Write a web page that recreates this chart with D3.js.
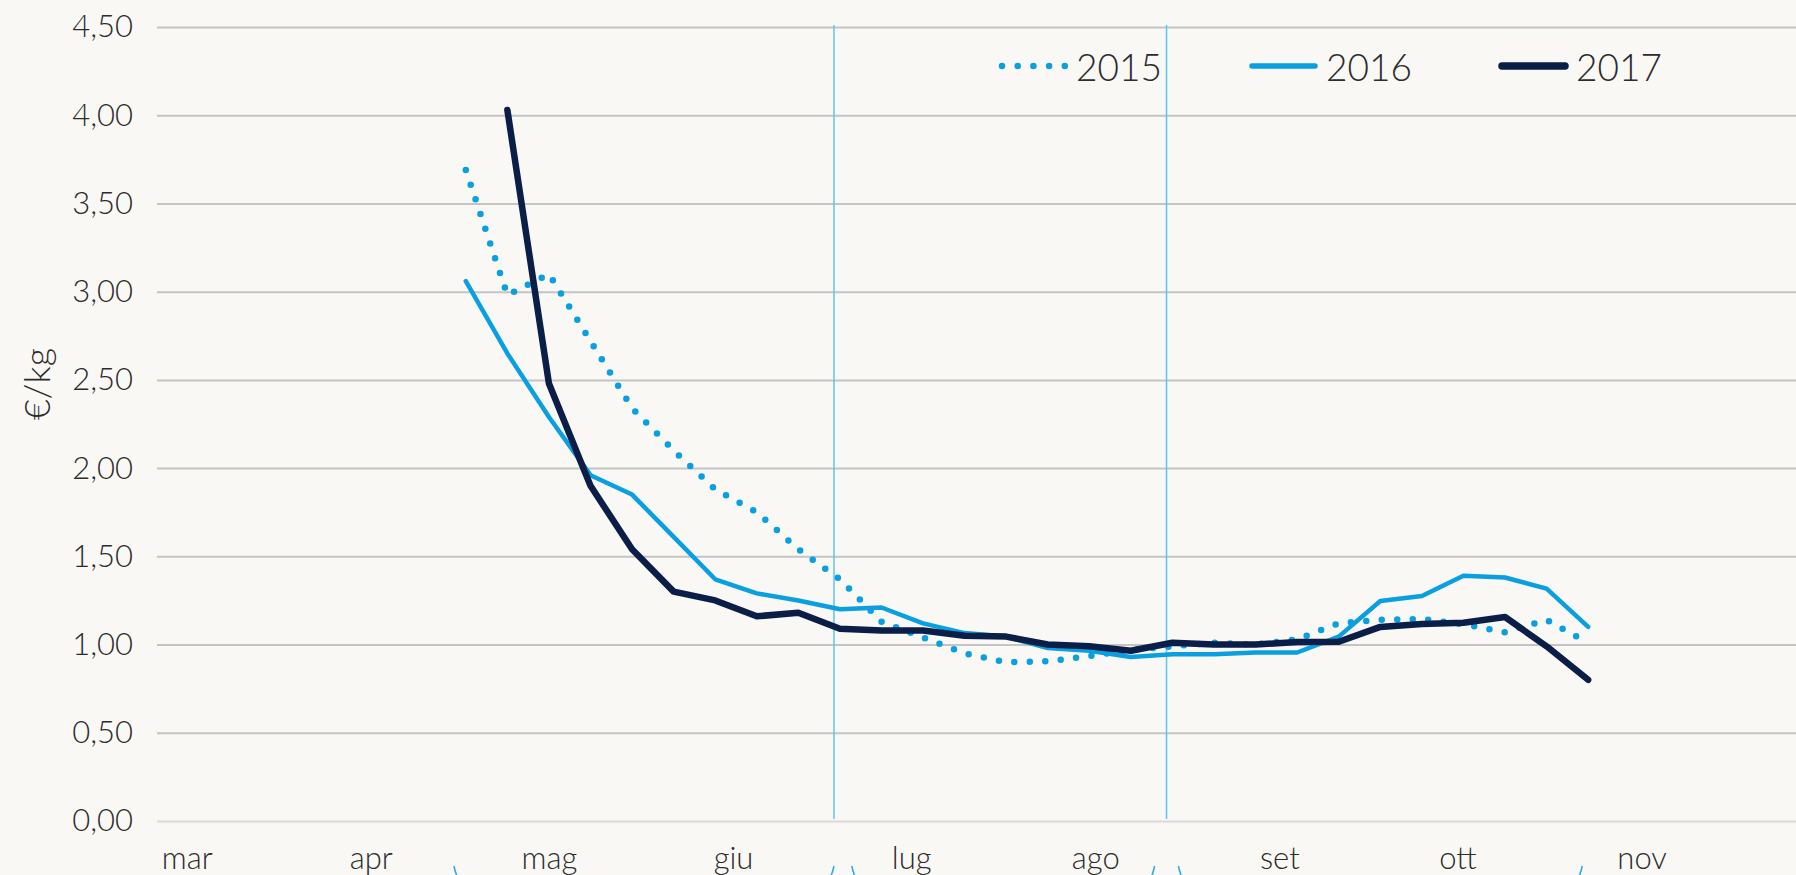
<!DOCTYPE html>
<html>
<head>
<meta charset="utf-8">
<script src="https://cdn.jsdelivr.net/npm/d3@7"></script>
<style>
  html, body { margin: 0; padding: 0; background: #f9f8f4; }
  svg { display: block; }
  text { font-family: 'Century Gothic', 'URW Gothic', Lato, sans-serif; font-weight: 300; fill: #2b2b2b; }
</style>
</head>
<body>
<script>
// ISO weeks (2017 calendar) of the weekly quotations
var weeks = [16, 17, 18, 19, 20, 21, 22, 23, 24, 25, 26, 27, 28, 29,
  30, 31, 32, 33, 34, 35, 36, 37, 38, 39, 40, 41, 42, 43];

var series2015 = [3.69, 2.98, 3.10, 2.72, 2.34, 2.10, 1.88, 1.75, 1.54, 1.37,
  1.13, 1.04, 0.95, 0.90, 0.905, 0.935, 0.97, 0.99, 1.01, 1.00,
  1.03, 1.12, 1.14, 1.145, 1.115, 1.07, 1.14, 1.01];
var series2016 = [3.06, 2.65, 2.29, 1.96, 1.85, 1.61, 1.37, 1.29, 1.25, 1.20,
  1.21, 1.12, 1.065, 1.045, 0.98, 0.965, 0.93, 0.945, 0.945, 0.955,
  0.955, 1.045, 1.247, 1.275, 1.39, 1.38, 1.317, 1.10];
var series2017 = [null, 4.03, 2.48, 1.90, 1.54, 1.30, 1.25, 1.16, 1.18, 1.09,
  1.08, 1.08, 1.05, 1.045, 1.00, 0.99, 0.965, 1.01, 1.00, 1.00,
  1.015, 1.016, 1.10, 1.117, 1.124, 1.156, 0.99, 0.80];

var seriesNames = ['2015', '2016', '2017'];
var monthLabels = ['mar', 'apr', 'mag', 'giu', 'lug', 'ago', 'set', 'ott', 'nov'];
var yTicks = [0, 0.5, 1, 1.5, 2, 2.5, 3, 3.5, 4, 4.5];
var markerDates = ['2017-06-18', '2017-08-13'];
var braceSpans = [['2017-04-15', '2017-06-18'], ['2017-06-21', '2017-08-11'], ['2017-08-15', '2017-10-22']];

function weekToDate(w) {
  // monday of ISO week w, 2017 (week 1 starts on 2 Jan 2017)
  return new Date(Date.UTC(2017, 0, 2 + 7 * (w - 1)));
}

function drawChart() {
  var width = 1796;
  var height = 875;
  var margin = { top: 27, right: 0, bottom: 54, left: 157 };

  var svg = d3.select('body').append('svg')
    .attr('width', width)
    .attr('height', height);

  svg.append('rect')
    .attr('width', width)
    .attr('height', height)
    .attr('fill', '#f9f8f4');

  var x = d3.scaleUtc()
    .domain([new Date(Date.UTC(2017, 1, 24)), new Date(Date.UTC(2017, 10, 27))])
    .range([margin.left, width - margin.right]);

  var y = d3.scaleLinear()
    .domain([0, 4.5])
    .range([height - margin.bottom, margin.top]);

  var fmt = function (d) { return d3.format('.2f')(d).replace('.', ','); };

  // horizontal grid + y labels
  var yAxis = svg.append('g')
    .attr('transform', 'translate(' + margin.left + ',0)')
    .call(d3.axisLeft(y).tickValues(yTicks).tickFormat(fmt)
      .tickSize(-(width - margin.left - margin.right)).tickPadding(24));
  yAxis.select('.domain').remove();
  yAxis.selectAll('.tick line')
    .attr('stroke', function (d) { return d === 0 ? '#d9d9d9' : '#c4c4c4'; })
    .attr('stroke-width', 2);
  yAxis.selectAll('.tick text')
    .attr('font-size', 31)
    .attr('fill', '#2b2b2b');

  // month labels
  var months = d3.utcMonth.range(new Date(Date.UTC(2017, 2, 1)), new Date(Date.UTC(2017, 11, 1)));
  var xAxis = svg.append('g')
    .attr('transform', 'translate(0,' + (height - margin.bottom) + ')')
    .call(d3.axisBottom(x).tickValues(months)
      .tickFormat(function (d, i) { return monthLabels[i]; })
      .tickSize(0).tickPadding(26));
  xAxis.select('.domain').remove();
  xAxis.selectAll('.tick text')
    .attr('font-size', 31)
    .attr('fill', '#2b2b2b');

  // y axis title
  svg.append('text')
    .attr('transform', 'translate(36,' + 384 + ') rotate(-90)')
    .attr('text-anchor', 'middle')
    .attr('dominant-baseline', 'central')
    .attr('font-size', 36)
    .text('€/kg');

  // vertical marker lines
  svg.append('g').selectAll('line')
    .data(markerDates)
    .enter()
    .append('line')
    .attr('x1', function (d) { return x(new Date(d)); })
    .attr('x2', function (d) { return x(new Date(d)); })
    .attr('y1', margin.top - 2)
    .attr('y2', height - margin.bottom - 2)
    .attr('stroke', '#5cc6f2')
    .attr('stroke-width', 1.5);

  // brace tops, cut by the bottom edge
  var braces = svg.append('g')
    .attr('fill', 'none')
    .attr('stroke', '#2aa8e0')
    .attr('stroke-width', 1.5);
  braceSpans.forEach(function (s) {
    var x0 = x(new Date(s[0]));
    var x1 = x(new Date(s[1]));
    braces.append('path')
      .attr('d', 'M' + x0 + ',866 Q' + (x0 + 1) + ',871 ' + (x0 + 3) + ',876');
    braces.append('path')
      .attr('d', 'M' + x1 + ',866 Q' + (x1 - 1) + ',871 ' + (x1 - 3) + ',876');
  });

  // lines
  var datas = [series2015, series2016, series2017];
  var styles = [
    { color: '#0a9fe0', width: 6.5, dash: '0,15.5' },
    { color: '#0a9fe0', width: 4.5, dash: null },
    { color: '#0b1e48', width: 6.5, dash: null }
  ];

  var line = d3.line()
    .defined(function (d) { return d !== null; })
    .x(function (d, i) { return x(weekToDate(weeks[i])); })
    .y(function (d) { return y(d); });

  svg.append('g').selectAll('path')
    .data(datas)
    .enter()
    .append('path')
    .attr('d', function (d) { return line(d); })
    .attr('fill', 'none')
    .attr('stroke', function (d, i) { return styles[i].color; })
    .attr('stroke-width', function (d, i) { return styles[i].width; })
    .attr('stroke-dasharray', function (d, i) { return styles[i].dash; })
    .attr('stroke-linecap', 'round')
    .attr('stroke-linejoin', 'round');

  // legend
  var legend = svg.append('g')
    .attr('transform', 'translate(999,66)');
  var item = legend.selectAll('g')
    .data(seriesNames)
    .enter()
    .append('g')
    .attr('transform', function (d, i) { return 'translate(' + (i * 250) + ',0)'; });
  item.append('line')
    .attr('x1', 3)
    .attr('x2', 66)
    .attr('stroke', function (d, i) { return styles[i].color; })
    .attr('stroke-width', function (d, i) { return i === 0 ? 6.5 : styles[i].width + 1; })
    .attr('stroke-dasharray', function (d, i) { return i === 0 ? '0,15.7' : null; })
    .attr('stroke-linecap', 'round');
  item.append('text')
    .attr('x', 77)
    .attr('dominant-baseline', 'central')
    .attr('font-size', 37)
    .text(function (d) { return d; });
}

drawChart();
</script>
</body>
</html>
